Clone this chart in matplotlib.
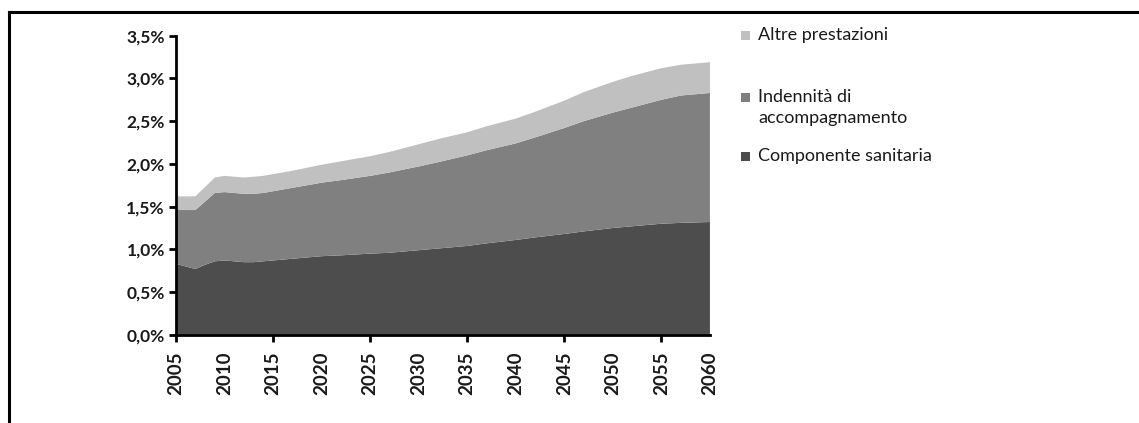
import numpy as np
import matplotlib.pyplot as plt
from matplotlib.patches import Rectangle
from matplotlib.lines import Line2D

plt.rcParams['font.family'] = ['Lato', 'DejaVu Sans']

# years and shares of GDP (%)
years = [2005, 2006, 2007, 2008, 2009, 2010, 2011, 2012, 2013, 2014, 2015, 2017,
         2020, 2022, 2025, 2027, 2030, 2032, 2035, 2037, 2040, 2042, 2045, 2047,
         2050, 2052, 2055, 2057, 2060]
sanitaria = [0.83, 0.80, 0.77, 0.82, 0.86, 0.87, 0.86, 0.85, 0.85, 0.86, 0.87, 0.89,
             0.92, 0.93, 0.95, 0.96, 0.99, 1.01, 1.04, 1.07, 1.11, 1.14, 1.18, 1.21,
             1.25, 1.27, 1.30, 1.31, 1.32]
accomp_top = [1.47, 1.46, 1.46, 1.56, 1.66, 1.67, 1.66, 1.65, 1.65, 1.66, 1.68, 1.72,
              1.78, 1.81, 1.86, 1.90, 1.97, 2.02, 2.10, 2.16, 2.24, 2.31, 2.42, 2.50,
              2.60, 2.66, 2.75, 2.80, 2.83]
total = [1.62, 1.62, 1.62, 1.73, 1.84, 1.86, 1.85, 1.84, 1.85, 1.86, 1.88, 1.92,
         1.99, 2.03, 2.09, 2.14, 2.23, 2.29, 2.37, 2.44, 2.53, 2.61, 2.74, 2.84,
         2.96, 3.03, 3.12, 3.16, 3.19]

accompagnamento = np.array(accomp_top) - np.array(sanitaria)
altre = np.array(total) - np.array(accomp_top)

colors = ['#4d4d4d', '#808080', '#c0c0c0']

fig = plt.figure(figsize=(11.39, 4.23), dpi=100)
ax = fig.add_axes([0.1545, 0.2085, 0.4688, 0.7071])

ax.stackplot(years, sanitaria, accompagnamento, altre, colors=colors, linewidth=0)

ax.set_xlim(2005, 2060)
ax.set_ylim(0, 3.5)
yt = np.arange(0, 3.51, 0.5)
ax.set_yticks(yt)
ax.set_yticklabels([f'{v:.1f}%'.replace('.', ',') for v in yt],
                   fontsize=12.5, fontweight='bold', color='#1a1a1a')
xt = list(range(2005, 2061, 5))
ax.set_xticks(xt)
ax.set_xticklabels([str(x) for x in xt], rotation=90, fontsize=13.5,
                   fontweight='bold', color='#1a1a1a')
for t, yr in zip(ax.xaxis.get_major_ticks(), xt):
    if (yr - 2005) % 10 != 0:
        t.tick1line.set_visible(False)

ax.tick_params(axis='both', direction='out', length=5, width=2, color='black')
ax.tick_params(axis='y', pad=3)
ax.tick_params(axis='x', pad=7)
for s in ['top', 'right']:
    ax.spines[s].set_visible(False)
for s in ['left', 'bottom']:
    ax.spines[s].set_linewidth(2)

# legend drawn by hand, Excel style
W, H = 1139, 423
leg = [('Altre prestazioni', colors[2], 35),
       ('Indennità di', colors[1], 97),
       ('Componente sanitaria', colors[0], 156)]
for text, c, y in leg:
    fig.patches.append(Rectangle((741 / W, 1 - (y + 5) / H), 9 / W, 9 / H,
                                 facecolor=c, edgecolor='none', transform=fig.transFigure))
    fig.text(758 / W, 1 - y / H, text, fontsize=13, va='center', ha='left', color='#1a1a1a')
fig.text(758 / W, 1 - 118 / H, 'accompagnamento', fontsize=13, va='center', ha='left',
         color='#1a1a1a')

# page frame
fig.add_artist(Line2D([8.5 / W, 8.5 / W], [0, 1 - 12 / H], color='black', lw=2.2,
                      transform=fig.transFigure))
fig.add_artist(Line2D([8.5 / W, 1], [1 - 12 / H, 1 - 12 / H], color='black', lw=2.2,
                      transform=fig.transFigure))

fig.savefig('out.png', dpi=100)
